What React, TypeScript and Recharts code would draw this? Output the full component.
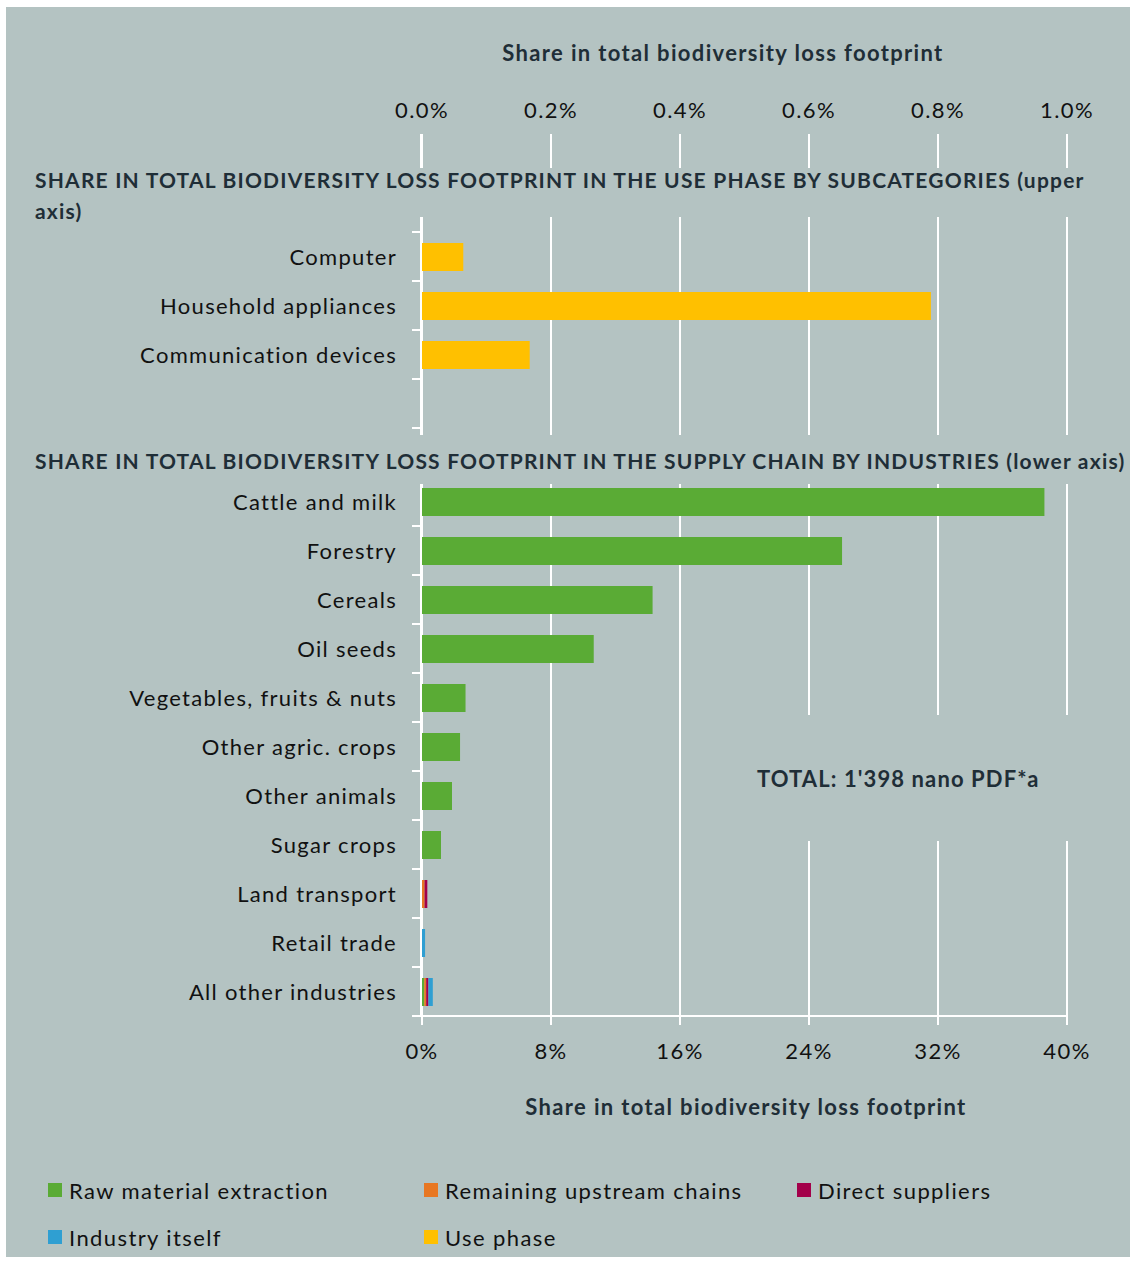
import { BarChart, Bar, XAxis, YAxis, CartesianGrid } from "recharts";

// rows of the chart, top to bottom ("" = spacer / header row)
const categories = [
  "",
  "",
  "Computer",
  "Household appliances",
  "Communication devices",
  "",
  "",
  "Cattle and milk",
  "Forestry",
  "Cereals",
  "Oil seeds",
  "Vegetables, fruits & nuts",
  "Other agric. crops",
  "Other animals",
  "Sugar crops",
  "Land transport",
  "Retail trade",
  "All other industries",
];

// upper axis, % of total footprint
const usePhase = [null, null, 0.064, 0.789, 0.167, null, null, null, null, null, null, null, null, null, null, null, null, null];

// lower axis, % of total footprint
const rawMaterial = [null, null, null, null, null, null, null, 38.6, 26.05, 14.3, 10.65, 2.7, 2.36, 1.86, 1.18, 0, 0, 0.14];
const remainingUpstream = [null, null, null, null, null, null, null, 0, 0, 0, 0, 0, 0, 0, 0, 0.16, 0, 0.12];
const directSuppliers = [null, null, null, null, null, null, null, 0, 0, 0, 0, 0, 0, 0, 0, 0.17, 0, 0.14];
const industryItself = [null, null, null, null, null, null, null, 0, 0, 0, 0, 0, 0, 0, 0, 0, 0.19, 0.27];

const lowerTicks = [0, 8, 16, 24, 32, 40];
const upperTicks = [0, 0.2, 0.4, 0.6, 0.8, 1.0];

const GREEN = "#5aab35";
const ORANGE = "#e87722";
const RED = "#a3004a";
const BLUE = "#2f9fd2";
const YELLOW = "#ffc000";
const BG = "#b4c3c2";
const DARK = "#1f2e37";
const FONT = "Lato, 'Open Sans', sans-serif";

const legendItems = [
  { label: "Raw material extraction", color: GREEN, x: 48, y: 1190 },
  { label: "Remaining upstream chains", color: ORANGE, x: 424, y: 1190 },
  { label: "Direct suppliers", color: RED, x: 797, y: 1190 },
  { label: "Industry itself", color: BLUE, x: 48, y: 1237 },
  { label: "Use phase", color: YELLOW, x: 424, y: 1237 },
];

const data = categories.map((name, i) => ({
  idx: i,
  name,
  usePhase: usePhase[i],
  raw: rawMaterial[i],
  upstream: remainingUpstream[i],
  direct: directSuppliers[i],
  itself: industryItself[i],
}));

const AXIS_X = 422;
const BAND = 49;

function CategoryTick(props: any) {
  const { y, payload } = props;
  const label = categories[payload.value] ?? "";
  return (
    <g>
      <line x1={AXIS_X - 10} x2={AXIS_X - 1} y1={y + BAND / 2} y2={y + BAND / 2} stroke="#fff" strokeWidth={2} />
      <text
        x={AXIS_X - 25}
        y={y}
        textAnchor="end"
        dominantBaseline="central"
        fontSize={22}
        fill="#111"
        fontFamily={FONT}
        style={{ letterSpacing: "1.3px" }}
      >
        {label}
      </text>
    </g>
  );
}

const boldText: React.CSSProperties = {
  position: "absolute",
  fontFamily: FONT,
  fontWeight: 700,
  fontSize: 21,
  color: DARK,
  whiteSpace: "nowrap",
  lineHeight: "30px",
};

const tickStyle = { fill: "#111", fontSize: 22, fontFamily: FONT, style: { letterSpacing: "1.4px" } };

export default function App() {
  return (
    <div style={{ position: "relative", width: 1136, height: 1264, background: "#fff", overflow: "hidden" }}>
      <style>{`body{margin:0}`}</style>
      <div style={{ position: "absolute", left: 6, top: 7, width: 1124, height: 1250, background: BG }} />

      <div style={{ position: "absolute", left: 0, top: 0 }}>
        <BarChart
          width={1136}
          height={1264}
          data={data}
          layout="vertical"
          margin={{ top: 94, right: 69, bottom: 208, left: 122 }}
        >
          <CartesianGrid xAxisId="lower" yAxisId="main" horizontal={false} stroke="#fff" strokeWidth={2} />
          <XAxis
            xAxisId="upper"
            type="number"
            orientation="top"
            domain={[0, 1]}
            ticks={upperTicks}
            allowDataOverflow
            axisLine={false}
            tickLine={false}
            tickSize={0}
            tickMargin={16}
            height={40}
            tickFormatter={(v: number) => v.toFixed(1) + "%"}
            tick={tickStyle}
          />
          <XAxis
            xAxisId="lower"
            type="number"
            orientation="bottom"
            domain={[0, 40]}
            ticks={lowerTicks}
            allowDataOverflow
            axisLine={{ stroke: "#fff", strokeWidth: 2 }}
            tickLine={{ stroke: "#fff", strokeWidth: 2 }}
            tickSize={9}
            tickMargin={18}
            height={40}
            tickFormatter={(v: number) => v + "%"}
            tick={tickStyle}
          />
          <YAxis
            yAxisId="main"
            type="category"
            dataKey="idx"
            width={300}
            axisLine={{ stroke: "#fff", strokeWidth: 2, transform: "translate(-1,0)" }}
            tickLine={false}
            tickSize={0}
            interval={0}
            tick={<CategoryTick />}
          />
          <YAxis yAxisId="use" type="category" dataKey="idx" hide />
          <Bar xAxisId="lower" yAxisId="main" dataKey="raw" stackId="s" fill={GREEN} barSize={28} isAnimationActive={false} />
          <Bar xAxisId="lower" yAxisId="main" dataKey="upstream" stackId="s" fill={ORANGE} barSize={28} isAnimationActive={false} />
          <Bar xAxisId="lower" yAxisId="main" dataKey="direct" stackId="s" fill={RED} barSize={28} isAnimationActive={false} />
          <Bar xAxisId="lower" yAxisId="main" dataKey="itself" stackId="s" fill={BLUE} barSize={28} isAnimationActive={false} />
          <Bar xAxisId="upper" yAxisId="use" dataKey="usePhase" fill={YELLOW} barSize={28} isAnimationActive={false} />
        </BarChart>
      </div>

      {/* axis titles */}
      <div style={{ ...boldText, fontSize: 22, letterSpacing: "1.35px", left: 0, width: 1446, textAlign: "center", top: 38 }}>
        Share in total biodiversity loss footprint
      </div>
      <div style={{ ...boldText, fontSize: 22, letterSpacing: "1.35px", left: 0, width: 1492, textAlign: "center", top: 1092 }}>
        Share in total biodiversity loss footprint
      </div>

      {/* section headers (boxes hide the gridlines behind them) */}
      <div style={{ position: "absolute", left: 30, top: 168, width: 1065, height: 49, background: BG }} />
      <div style={{ ...boldText, letterSpacing: "1.2px", left: 35, top: 164, lineHeight: "31px" }}>
        SHARE IN TOTAL BIODIVERSITY LOSS FOOTPRINT IN THE USE PHASE BY SUBCATEGORIES (upper
        <br />
        axis)
      </div>
      <div style={{ position: "absolute", left: 30, top: 435, width: 1100, height: 49, background: BG }} />
      <div style={{ ...boldText, letterSpacing: "1.2px", left: 35, top: 446 }}>
        SHARE IN TOTAL BIODIVERSITY LOSS FOOTPRINT IN THE SUPPLY CHAIN BY INDUSTRIES (lower axis)
      </div>

      <div style={{ position: "absolute", left: 745, top: 715, width: 335, height: 126, background: BG }} />
      <div style={{ ...boldText, fontSize: 22, letterSpacing: "1.1px", left: 757, top: 764 }}>TOTAL: 1'398 nano PDF*a</div>

      {/* legend */}
      {legendItems.map((it) => (
        <div key={it.label} style={{ position: "absolute", left: it.x, top: it.y - 15, height: 30, display: "flex", alignItems: "center" }}>
          <div style={{ width: 14, height: 14, background: it.color, marginRight: 7 }} />
          <span style={{ fontFamily: FONT, fontSize: 22, letterSpacing: "1.4px", color: "#111", whiteSpace: "nowrap" }}>{it.label}</span>
        </div>
      ))}
    </div>
  );
}
